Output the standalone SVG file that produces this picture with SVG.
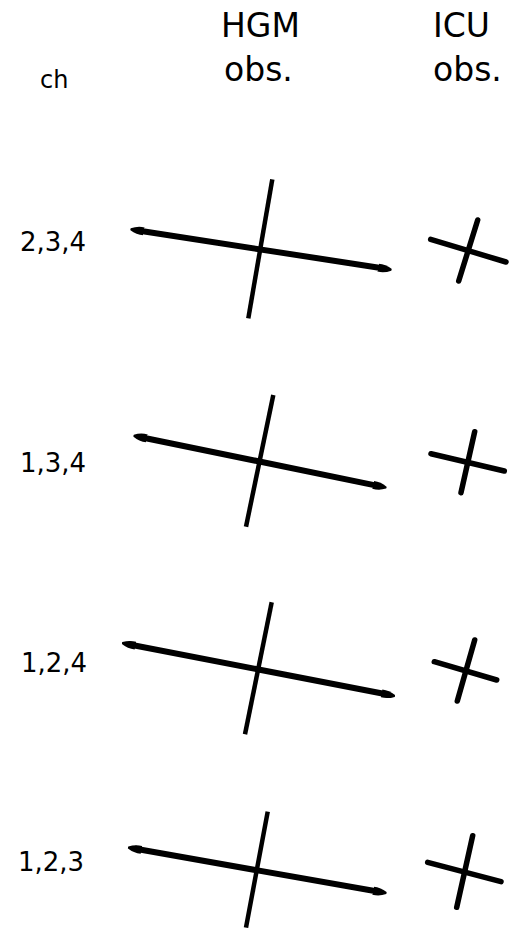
<svg xmlns="http://www.w3.org/2000/svg" width="524" height="930" viewBox="0 0 524 930">
<style>
text{font-family:"DejaVu Sans",Verdana,sans-serif;fill:#000}
.hd{font-size:33px}
.lb{font-size:26px}
.ax{stroke:#000;stroke-width:6;fill:none;stroke-linecap:round}
.vt{stroke:#000;stroke-width:4.5;fill:none;stroke-linecap:butt}
.ic{stroke:#000;stroke-width:5.5;fill:none;stroke-linecap:round}
</style>
<defs>
<marker id="ah" viewBox="0 0 14 10" refX="6" refY="5" markerWidth="14" markerHeight="10" markerUnits="userSpaceOnUse" orient="auto-start-reverse">
<path d="M0,1 Q7,0.5 13.5,4 Q14,5 13.5,6 Q7,9.5 0,9 z" fill="#000"/>
</marker>
</defs>
<g id="header">
<text class="lb" x="40" y="88" style="font-size:24px">ch</text>
<text class="hd" x="221" y="37">HGM</text>
<text class="hd" x="224" y="81">obs.</text>
<text class="hd" x="433" y="37">ICU</text>
<text class="hd" x="433" y="81">obs.</text>
</g>
<g id="row1">
<text class="lb" x="20" y="251">2,3,4</text>
<g id="hgm1">
<line class="vt" x1="272.3" y1="179.3" x2="248.3" y2="318.3"/>
<line class="ax" x1="138" y1="230.5" x2="384" y2="268.5" marker-start="url(#ah)" marker-end="url(#ah)"/>
</g>
<g id="icu1">
<line class="ic" x1="430.7" y1="239.3" x2="506" y2="262"/>
<line class="ic" x1="477.7" y1="220" x2="458.7" y2="281"/>
</g>
</g>
<g id="row2">
<text class="lb" x="20" y="472">1,3,4</text>
<g id="hgm2">
<line class="vt" x1="273.3" y1="395" x2="246" y2="526.7"/>
<line class="ax" x1="141" y1="437.2" x2="379" y2="486.1" marker-start="url(#ah)" marker-end="url(#ah)"/>
</g>
<g id="icu2">
<line class="ic" x1="431" y1="453.7" x2="504.3" y2="471"/>
<line class="ic" x1="474.7" y1="431.7" x2="461" y2="492.7"/>
</g>
</g>
<g id="row3">
<text class="lb" x="21" y="672">1,2,4</text>
<g id="hgm3">
<line class="vt" x1="271.7" y1="602.3" x2="245" y2="734.3"/>
<line class="ax" x1="129.5" y1="644.5" x2="387.5" y2="694.5" marker-start="url(#ah)" marker-end="url(#ah)"/>
</g>
<g id="icu3">
<line class="ic" x1="434.3" y1="661.7" x2="496.7" y2="680"/>
<line class="ic" x1="474.7" y1="640" x2="457.3" y2="701"/>
</g>
</g>
<g id="row4">
<text class="lb" x="18" y="871">1,2,3</text>
<g id="hgm4">
<line class="vt" x1="267.7" y1="811.7" x2="246" y2="927.7"/>
<line class="ax" x1="135.5" y1="848.8" x2="379" y2="891.8" marker-start="url(#ah)" marker-end="url(#ah)"/>
</g>
<g id="icu4">
<line class="ic" x1="427.7" y1="862.3" x2="501" y2="881.7"/>
<line class="ic" x1="472.7" y1="835.7" x2="456.7" y2="907.3"/>
</g>
</g>
</svg>
